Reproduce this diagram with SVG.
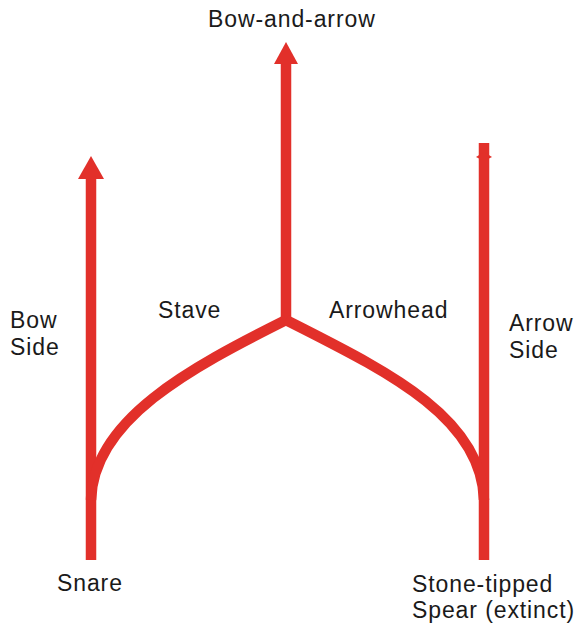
<svg xmlns="http://www.w3.org/2000/svg" width="584" height="627" viewBox="0 0 584 627">
  <style>
    .lbl { font-family: "Liberation Sans", Arial, sans-serif; font-size: 23px; fill: #1a1a1a; letter-spacing: 0.9px; }
    .ln { fill: none; stroke: #e2302a; stroke-width: 10.5; }
    .hd { fill: #e2302a; }
  </style>
  <rect width="584" height="627" fill="#ffffff"/>
  <g id="connectors">
    <path class="ln" d="M91,560 V170"/>
    <polygon class="hd" points="91,156 78,179 104,179"/>
    <path class="ln" d="M286,322 V56"/>
    <polygon class="hd" points="286,42 274,64 298,64"/>
    <path class="ln" d="M484,560 V143"/>
    <polygon class="hd" points="476,157 484,152 492,157 484,161"/>
    <path class="ln" d="M91,500 C93,420 190,368 286,320"/>
    <path class="ln" d="M286,320 C380,368 482,415 484,500"/>
  </g>
  <g id="node-bow-and-arrow"><text class="lbl" x="208" y="27">Bow-and-arrow</text></g>
  <g id="node-bow-side"><text class="lbl" x="10" y="328">Bow</text><text class="lbl" x="10" y="355">Side</text></g>
  <g id="node-stave"><text class="lbl" x="158" y="318">Stave</text></g>
  <g id="node-arrowhead"><text class="lbl" x="329" y="318">Arrowhead</text></g>
  <g id="node-arrow-side"><text class="lbl" x="509" y="331">Arrow</text><text class="lbl" x="509" y="358">Side</text></g>
  <g id="node-snare"><text class="lbl" x="57" y="591">Snare</text></g>
  <g id="node-spear"><text class="lbl" x="412" y="592">Stone-tipped</text><text class="lbl" x="412" y="618">Spear (extinct)</text></g>
</svg>
